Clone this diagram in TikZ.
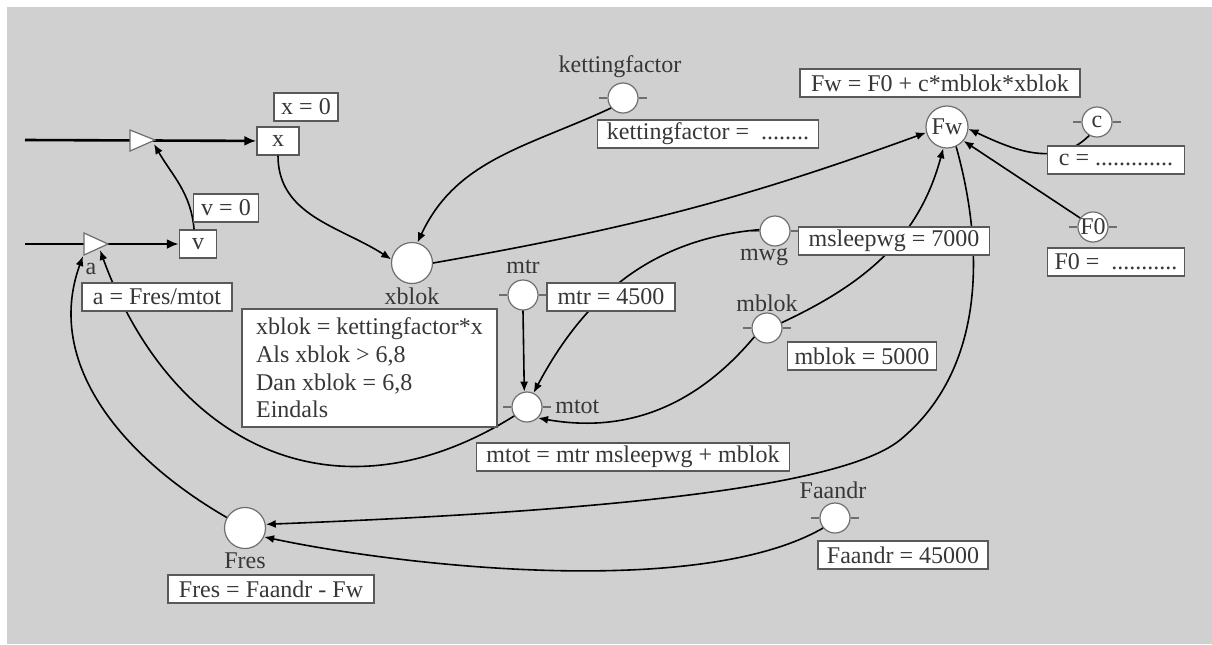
\documentclass[tikz,border=0pt]{standalone}
\usepackage{fontspec}
\setmainfont{Liberation Serif}
\usetikzlibrary{arrows.meta}

\definecolor{paper}{RGB}{208,208,208}
\definecolor{rim}{RGB}{110,110,110}
\definecolor{ink}{RGB}{55,55,55}

\tikzset{
    aux/.style={circle, draw=rim, fill=white, line width=0.6pt, inner sep=0pt, minimum size=15pt, text=ink},
    conv/.style={circle, draw=rim, fill=white, line width=0.6pt, inner sep=0pt, minimum size=20.5pt, text=ink},
    eqbox/.style={rectangle, draw=black!65, fill=white, line width=0.7pt, inner xsep=3pt, inner ysep=1.5pt, minimum height=14pt, align=left, text=ink},
    stockbox/.style={rectangle, draw=black!65, fill=white, line width=0.7pt, inner sep=1.5pt, minimum height=14pt, text=ink},
    tag/.style={text=ink, inner sep=0pt},
    link/.style={line width=0.8pt, -{Latex[length=5pt,width=4pt]}},
    flow/.style={line width=1.3pt, -{Latex[length=6pt,width=5pt]}},
    valve/.style={draw=rim, fill=white, line width=0.6pt},
    tick/.style={draw=rim, line width=0.6pt}
}

\begin{document}
\begin{tikzpicture}[x=0.5pt, y=-0.5pt, font=\fontsize{12}{13.85}\selectfont]
    \useasboundingbox (0,0) rectangle (1212,644);
    \fill [white] (0,0) rectangle (1212,644);
    \fill [paper] (7,7) rectangle (1212,644);

    \node [stockbox, minimum width=21pt] (x) at (278,141) {x};
    \node [stockbox, minimum width=18.5pt] (v) at (198,244) {v};

    \node [aux] (ketting) at (623,98) {};
    \node [conv] (xblok) at (412,263) {};
    \node [conv, minimum size=21pt] (Fw) at (947,127) {Fw};
    \node [aux] (c) at (1097,122) {c};
    \node [aux] (F0) at (1093,227) {F0};
    \node [aux] (mwg) at (775,231) {};
    \node [aux] (mblok) at (767,328) {};
    \node [aux] (mtr) at (523,295) {};
    \node [aux] (mtot) at (527,407) {};
    \node [conv] (Fres) at (245,528) {};
    \node [aux] (Faandr) at (835,518) {};

    \coordinate (srcX) at (25,140);
    \coordinate (srcV) at (25,244);
    \coordinate (valveX) at (154,144);
    \coordinate (valveA1) at (83,256);
    \coordinate (valveA2) at (100,250);

    \draw [flow] (srcX) -- (x);
    \draw [flow] (srcV) -- (v);
    \draw [valve] (130,130) -- (155,140) -- (130,151) -- cycle;
    \draw [valve] (84,233) -- (108,244) -- (84,255) -- cycle;

    \draw [tick] (ketting.west) -- ++(-4pt,0) (ketting.east) -- ++(4pt,0);
    \draw [tick] (c.west) -- ++(-4pt,0) (c.east) -- ++(4pt,0);
    \draw [tick] (F0.west) -- ++(-4pt,0) (F0.east) -- ++(4pt,0);
    \draw [tick] (mwg.west) -- ++(-4pt,0) (mwg.east) -- ++(4pt,0);
    \draw [tick] (mblok.west) -- ++(-4pt,0) (mblok.east) -- ++(4pt,0);
    \draw [tick] (mtr.west) -- ++(-4pt,0) (mtr.east) -- ++(4pt,0);
    \draw [tick] (mtot.west) -- ++(-4pt,0) (mtot.east) -- ++(4pt,0);
    \draw [tick] (Faandr.west) -- ++(-4pt,0) (Faandr.east) -- ++(4pt,0);

    \draw [link] (v.105) to [out=95, in=-60] (valveX);
    \draw [link] (x.south) to [out=-90, in=147] (xblok.170);
    \draw [link] (ketting.220) to [out=205, in=65] (xblok.75);
    \draw [link] (xblok.east) to [out=10, in=200] (Fw.195);
    \draw [link] (mwg.175) to [out=185, in=62] (mtot.65);
    \draw [link] (mtr.south) -- (mtot.100);
    \draw [link] (mblok.215) to [out=230, in=-10] (mtot.-45);
    \draw [link] (mblok.20) to [out=25, in=-105] (Fw.-100);
    \draw [link] (Fw.-65) .. controls (985,250) and (985,370) .. (900,440)
        .. controls (830,497) and (500,515) .. (Fres.10);
    \draw [link] (Faandr.220) to [out=210, in=-12, looseness=0.65] (Fres.-25);
    \draw [link] (c.240) to [out=225, in=-25] (Fw.-5);
    \draw [link] (F0.145) -- (Fw.-40);
    \draw [link] (Fres.150) to [out=150, in=-110] (valveA1);
    \draw [link] (mtot.215) to [out=212, in=-70, looseness=1.2] (valveA2);

    \node [tag] (kettingName) at (620,67) {kettingfactor};
    \node [tag] (xblokName) at (412,296) {xblok};
    \node [tag] (mwgName) at (764,257) {mwg};
    \node [tag] (mblokName) at (767,303) {mblok};
    \node [tag] (mtrName) at (523,267) {mtr};
    \node [tag, anchor=west] (mtotName) at (555,407) {mtot};
    \node [tag] (FresName) at (245,561) {Fres};
    \node [tag] (FaandrName) at (833,490) {Faandr};
    \node [tag] (aName) at (91,269) {a};

    \node [eqbox, minimum width=32pt] (xEq) at (306,107) {x = 0};
    \node [eqbox, minimum width=32.5pt] (vEq) at (226,208) {v = 0};
    \node [eqbox, minimum width=75pt] (aEq) at (157,297) {a = Fres/mtot};
    \node [eqbox, minimum width=110.5pt] (kettingEq) at (708,134) {kettingfactor = \ ........};
    \node [eqbox, minimum width=140pt] (FwEq) at (940,83) {Fw = F0 + c*mblok*xblok};
    \node [eqbox, minimum width=68.5pt] (cEq) at (1116,160) {c = .............};
    \node [eqbox, minimum width=68.5pt] (F0Eq) at (1116,262) {F0 = \ ...........};
    \node [eqbox, minimum width=95.5pt] (mwgEq) at (894,241) {msleepwg = 7000};
    \node [eqbox, minimum width=64pt] (mtrEq) at (611,297) {mtr = 4500};
    \node [eqbox, minimum width=74.5pt] (mblokEq) at (862,356) {mblok = 5000};
    \node [eqbox, minimum width=156.5pt] (mtotEq) at (633,457) {mtot = mtr msleepwg + mblok};
    \node [eqbox, minimum width=127.5pt, minimum height=59pt] (xblokEq) at (369.5,368)
        {xblok = kettingfactor*x\\Als xblok > 6,8\\Dan xblok = 6,8\\Eindals};
    \node [eqbox, minimum width=103pt] (FresEq) at (271,589) {Fres = Faandr - Fw};
    \node [eqbox, minimum width=85pt] (FaandrEq) at (903,555) {Faandr = 45000};
\end{tikzpicture}
\end{document}
